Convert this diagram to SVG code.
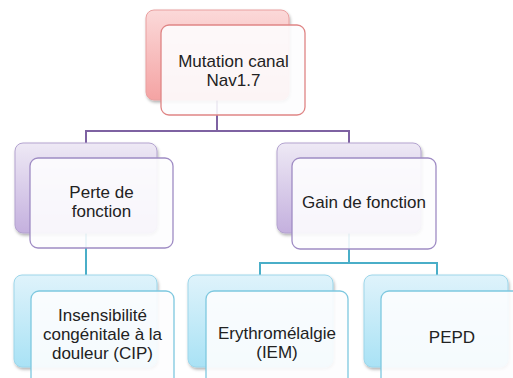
<svg xmlns="http://www.w3.org/2000/svg" width="513" height="378" viewBox="0 0 513 378">
<defs>
<linearGradient id="gRed" x1="0" y1="0" x2="0" y2="1"><stop offset="0" stop-color="#fbd9d9"/><stop offset="1" stop-color="#f4a3a3"/></linearGradient>
<linearGradient id="gPur" x1="0" y1="0" x2="0" y2="1"><stop offset="0" stop-color="#eee9f5"/><stop offset="1" stop-color="#c4b0de"/></linearGradient>
<linearGradient id="gBlu" x1="0" y1="0" x2="0" y2="1"><stop offset="0" stop-color="#dff3fb"/><stop offset="1" stop-color="#a9e2f5"/></linearGradient>
<filter id="sh" x="-10%" y="-10%" width="130%" height="130%"><feDropShadow dx="1" dy="2" stdDeviation="1.5" flood-color="#000" flood-opacity="0.3"/></filter>
</defs>
<style>
.back{stroke-width:1;filter:url(#sh)}
.front{fill:#fdfdfe;fill-opacity:0.9;stroke-width:1.3}
.red .back{fill:url(#gRed);stroke:#e9a0a0}
.red .front{stroke:#df8585}
.pur .back{fill:url(#gPur);stroke:#b3a3cf}
.pur .front{stroke:#9f8cc4}
.blu .back{fill:url(#gBlu);stroke:#9dd6ea}
.blu .front{stroke:#7ec8df}
text{font-family:"Liberation Sans",Arial,sans-serif;font-size:17px;fill:#222;text-anchor:middle}
.c1{stroke:#7e62a2;stroke-width:2;fill:none}
.c2{stroke:#4aaec8;stroke-width:2;fill:none}
</style>
<g id="connectors">
<path class="c1" d="M217,100 V131 M86,131 H349 M86,130 V143 M349,130 V143"/>
<path class="c2" d="M86,233 V275 M349,233 V263 M260,263 H437 M260,262 V275 M437,262 V275"/>
</g>
<g id="n-mutation" class="red">
<rect class="back" x="146" y="10" width="143" height="90" rx="8"/>
<rect class="front" x="161" y="25" width="144" height="90" rx="8"/>
<text x="233.5" y="67">Mutation canal</text>
<text x="233.5" y="86">Nav1.7</text>
</g>
<g id="n-perte" class="pur">
<rect class="back" x="15" y="143" width="142" height="90" rx="8"/>
<rect class="front" x="30" y="158" width="143" height="90" rx="8"/>
<text x="101.5" y="198">Perte de</text>
<text x="101.5" y="217">fonction</text>
</g>
<g id="n-gain" class="pur">
<rect class="back" x="277" y="143" width="144" height="90" rx="8"/>
<rect class="front" x="292" y="158" width="144" height="91" rx="8"/>
<text x="364" y="208">Gain de fonction</text>
</g>
<g id="n-cip" class="blu">
<rect class="back" x="14" y="275" width="143" height="92" rx="8"/>
<rect class="front" x="31" y="291" width="143" height="95" rx="8"/>
<text x="102.5" y="321">Insensibilité</text>
<text x="102.5" y="340">congénitale à la</text>
<text x="102.5" y="359">douleur (CIP)</text>
</g>
<g id="n-iem" class="blu">
<rect class="back" x="188" y="275" width="145" height="92" rx="8"/>
<rect class="front" x="206" y="291" width="142" height="95" rx="8"/>
<text x="277" y="339">Erythromélalgie</text>
<text x="277" y="358">(IEM)</text>
</g>
<g id="n-pepd" class="blu">
<rect class="back" x="364" y="275" width="144" height="92" rx="8"/>
<rect class="front" x="381" y="291" width="143" height="95" rx="8"/>
<text x="452" y="343">PEPD</text>
</g>
</svg>
